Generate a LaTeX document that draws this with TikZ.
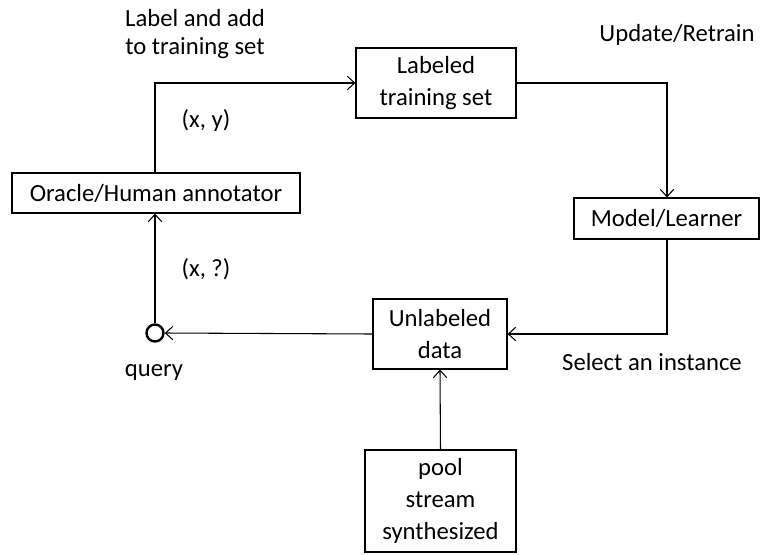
\documentclass[tikz,border=0pt]{standalone}
\usepackage{fontspec}
\setmainfont{Carlito}
\usetikzlibrary{arrows.meta}
\begin{document}
\begin{tikzpicture}[x=0.75pt,y=-0.75pt,
  font=\fontsize{18.5}{21.5}\selectfont,
  box/.style={draw, line width=0.8pt, inner sep=0pt, align=center,
    font=\fontsize{18.5}{24}\selectfont},
  link/.style={line width=0.8pt, -{Straight Barb[length=5.5pt,width=10pt]}},
  lbl/.style={inner sep=0pt, align=center}]
\useasboundingbox (0,0) rectangle (761,554);

% boxes
\node[box, minimum width=288*0.75pt, minimum height=40*0.75pt] (oracle) at (156,193) {Oracle/Human annotator};
\node[box, minimum width=160*0.75pt, minimum height=70*0.75pt] (labeled) at (436,83) {Labeled\\training set};
\node[box, minimum width=185*0.75pt, minimum height=41*0.75pt] (model) at (666.5,218.5) {Model/Learner};
\node[box, minimum width=134*0.75pt, minimum height=70*0.75pt] (unlab) at (440,334) {Unlabeled\\data};
\node[box, minimum width=151*0.75pt, minimum height=102*0.75pt] (source) at (440.5,501) {pool\\stream\\synthesized};

% query point
\node[circle, draw, line width=1.8pt, minimum size=17*0.75pt, inner sep=0pt] (query) at (155,333) {};

% bends of the loop
\coordinate (c1) at (155,83);
\coordinate (c2) at (667,83);
\coordinate (c3) at (667,334);

% connectors
\draw[link] (oracle.north -| c1) -- (c1) -- (labeled.west);
\draw[link] (labeled.east) -- (c2) -- (model.north -| c2);
\draw[link] (model.south -| c3) -- (c3) -- (unlab.east);
\draw[link] (unlab.west) -- (query.east);
\draw[link] (query.north) -- (oracle.south -| query);
\draw[link] (source.north) -- (unlab.south);

% labels
\node[lbl] (t1) at (195,34) {Label and add\\to training set};
\node[lbl] (t2) at (206,120) {(x, y)};
\node[lbl] (t3) at (206,269) {(x, ?)};
\node[lbl] (t4) at (154,372) {query};
\node[lbl] (t5) at (677,35) {Update/Retrain};
\node[lbl] (t6) at (652,362) {Select an instance};
\end{tikzpicture}
\end{document}
